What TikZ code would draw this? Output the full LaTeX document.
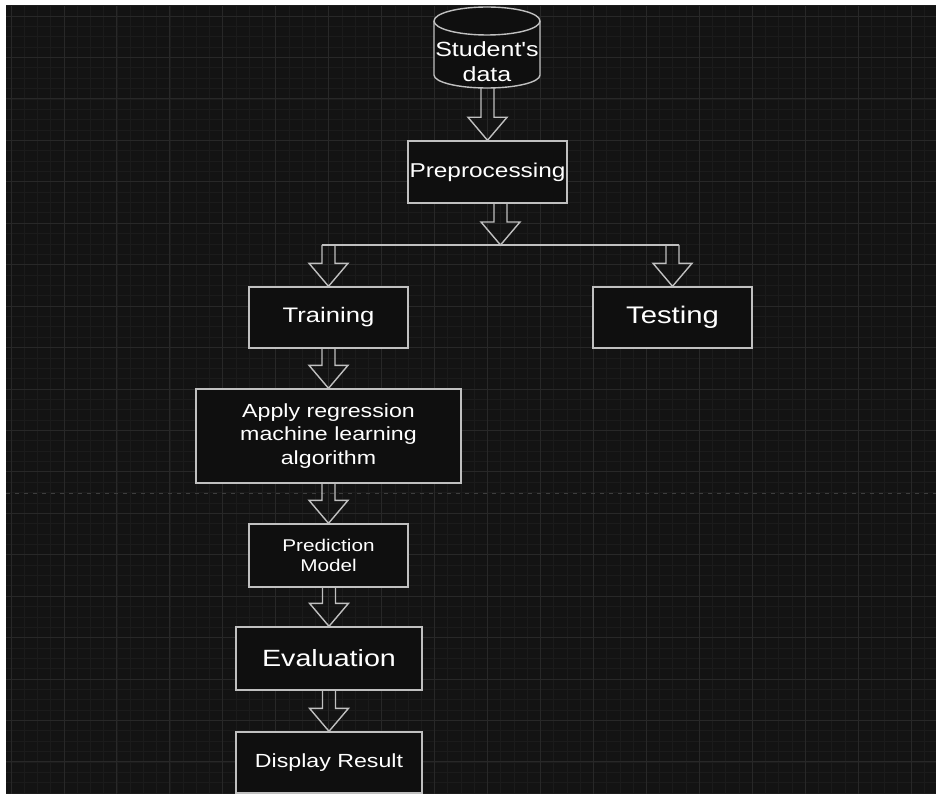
\documentclass[tikz,border=0pt]{standalone}
\usepackage{fontspec}
\newfontfamily\arialfont[FakeStretch=1.22]{Liberation Sans}
\usetikzlibrary{calc}
\definecolor{bgc}{RGB}{19,19,19}
\definecolor{minorc}{RGB}{27,27,27}
\definecolor{majorc}{RGB}{40,40,40}
\definecolor{dashc}{RGB}{62,62,62}
\definecolor{boxfill}{RGB}{15,15,15}
\definecolor{linec}{RGB}{192,192,192}
\newcommand{\blockarrow}[2]{%
  \draw[arrowline] let \p1=(#1), \p2=(#2) in
    (\x2-6.5pt,\y1) -- (\x2-6.5pt,\y2+23pt) -- (\x2-19.5pt,\y2+23pt) -- (\x2,\y2)
    -- (\x2+19.5pt,\y2+23pt) -- (\x2+6.5pt,\y2+23pt) -- (\x2+6.5pt,\y1);}
\begin{document}
\begin{tikzpicture}[x=1pt,y=-1pt,
  minorgrid/.style={draw=minorc,line width=0.7pt},
  majorgrid/.style={draw=majorc,line width=0.9pt},
  dashline/.style={draw=dashc,line width=1pt,dash pattern=on 4pt off 5pt},
  procbox/.style={draw=linec,line width=1.4pt,fill=boxfill,text=white,inner sep=0pt,align=center},
  arrowline/.style={draw=linec,line width=1.4pt,line join=miter},
  cylline/.style={draw=linec,line width=1.4pt,fill=boxfill}]
\useasboundingbox (0,0) rectangle (936,794);
\fill[white] (0,0) rectangle (936,794);
\fill[bgc] (6,6) rectangle (936,794);
\begin{scope}
  \clip (6,6) rectangle (936,794);
  \foreach \i in {0,...,70} {\pgfmathsetmacro\xx{11.06+13.235*\i}\draw[minorgrid] (\xx,6) -- (\xx,794);}
  \foreach \j in {0,...,77} {\pgfmathsetmacro\yy{5.64+10.36*\j}\draw[minorgrid] (6,\yy) -- (936,\yy);}
  \foreach \i in {0,...,17} {\pgfmathsetmacro\xx{11.06+52.94*\i}\draw[majorgrid] (\xx,6) -- (\xx,794);}
  \foreach \j in {0,...,19} {\pgfmathsetmacro\yy{16+41.44*\j}\draw[majorgrid] (6,\yy) -- (936,\yy);}
  \draw[dashline] (6,493) -- (936,493);
\end{scope}

% cylinder
\draw[cylline] (434,21) -- (434,75) arc[start angle=180,end angle=360,x radius=53pt,y radius=13pt]
  -- (540,21) arc[start angle=0,end angle=180,x radius=53pt,y radius=14pt] -- cycle;
\draw[cylline,fill=none] (434,21) arc[start angle=180,end angle=360,x radius=53pt,y radius=14pt];
\node[text=white,align=center,inner sep=0pt,font=\arialfont\fontsize{20.5}{24.5}\selectfont] (student) at (487,61.5) {Student's\\data};
\coordinate (cylbot) at (487,88);

\node[procbox,minimum width=159pt,minimum height=62pt,font=\arialfont\fontsize{20}{24}\selectfont] (pre) at (487.5,172) {Preprocessing};
\node[procbox,minimum width=159pt,minimum height=61pt,font=\arialfont\fontsize{21}{24}\selectfont] (train) at (328.5,317.5) {Training};
\node[procbox,minimum width=159pt,minimum height=61pt,font=\arialfont\fontsize{24}{28}\selectfont] (test) at (672.5,317.5) {Testing};
\node[procbox,minimum width=265pt,minimum height=94pt,font=\arialfont\fontsize{19}{23.5}\selectfont] (apply) at (328.5,436) {Apply regression\\machine learning\\algorithm};
\node[procbox,minimum width=159pt,minimum height=63pt,font=\arialfont\fontsize{17}{20}\selectfont] (pred) at (328.5,555.5) {Prediction\\Model};
\node[procbox,minimum width=186pt,minimum height=63pt,font=\arialfont\fontsize{23.5}{27}\selectfont] (eval) at (329,658.5) {Evaluation};
\node[procbox,minimum width=186pt,minimum height=61pt,font=\arialfont\fontsize{19}{23}\selectfont] (disp) at (329,762.5) {Display Result};

\coordinate (split) at (500.5,245);
\blockarrow{cylbot}{pre.north}
\blockarrow{pre.south}{split}
\draw[arrowline] ($(train.north|-split)+(-6.5,0)$) -- ($(test.north|-split)+(6.5,0)$);
\blockarrow{split}{train.north}
\blockarrow{split}{test.north}
\blockarrow{train.south}{apply.north}
\blockarrow{apply.south}{pred.north}
\blockarrow{pred.south}{eval.north}
\blockarrow{eval.south}{disp.north}
\end{tikzpicture}
\end{document}
